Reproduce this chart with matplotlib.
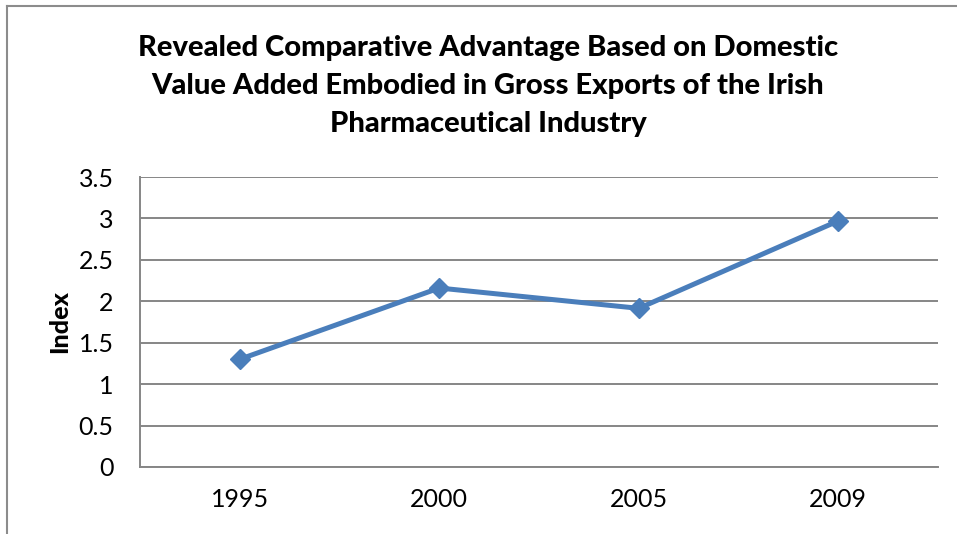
import matplotlib
matplotlib.use('Agg')
import matplotlib.pyplot as plt
from matplotlib.lines import Line2D

years = ['1995', '2000', '2005', '2009']
rca_index = [1.30, 2.16, 1.915, 2.97]
y_ticks = [0, 0.5, 1, 1.5, 2, 2.5, 3, 3.5]
y_tick_labels = ['0', '0.5', '1', '1.5', '2', '2.5', '3', '3.5']

plt.rcParams['font.family'] = ['Lato', 'DejaVu Sans']

fig = plt.figure(figsize=(9.57, 5.34), dpi=100)
ax = fig.add_axes([140/957, 1 - 467/534, (938 - 140)/957, (467 - 177)/534])

grid_col = '#868686'
x = range(len(years))
ax.plot(x, rca_index, color='#4A7EBB', lw=3.6, marker='D', ms=10.5,
        solid_joinstyle='round', zorder=3)

ax.set_xlim(-0.5, len(years) - 0.5)
ax.set_ylim(0, 3.5)
ax.set_yticks(y_ticks)
ax.set_yticklabels(y_tick_labels)
ax.set_xticks(list(x))
ax.set_xticklabels(years)
ax.tick_params(axis='both', length=0, labelsize=18)
ax.tick_params(axis='y', pad=19)
ax.tick_params(axis='x', pad=15)
ax.yaxis.grid(True, color=grid_col, lw=1.4)
ax.set_axisbelow(True)
for side in ['top', 'right']:
    ax.spines[side].set_visible(False)
for side in ['left', 'bottom']:
    ax.spines[side].set_color(grid_col)
    ax.spines[side].set_linewidth(1.4)

ax.set_ylabel('Index', fontsize=18, fontweight='black')
ax.yaxis.set_label_coords((71 - 140)/798, 0.5)

fig.text(488/957, 1 - 86/534,
         'Revealed Comparative Advantage Based on Domestic\n'
         'Value Added Embodied in Gross Exports of the Irish\n'
         'Pharmaceutical Industry',
         ha='center', va='center', fontsize=21, fontweight='black',
         linespacing=1.58)

# outer chart frame (left and top edges visible)
fig.add_artist(Line2D([7/957, 7/957], [0, 1 - 6/534], transform=fig.transFigure,
                      color='#8c8c8c', lw=1.5))
fig.add_artist(Line2D([7/957, 1], [1 - 6/534, 1 - 6/534], transform=fig.transFigure,
                      color='#8c8c8c', lw=1.5))

fig.savefig('out.png', dpi=100)
